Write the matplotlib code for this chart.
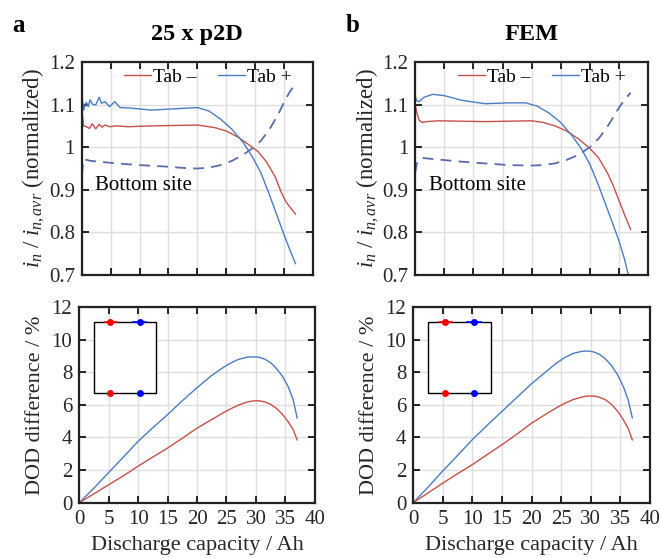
import matplotlib
matplotlib.use('Agg')
import matplotlib.pyplot as plt
import matplotlib.patches as patches
from matplotlib.ticker import FuncFormatter

plt.rcParams['font.family'] = ['Liberation Serif', 'DejaVu Serif']
plt.rcParams['mathtext.fontset'] = 'custom'
plt.rcParams['mathtext.rm'] = 'Liberation Serif'
plt.rcParams['mathtext.it'] = 'Liberation Serif:italic'

# ---- data: normalized current density, 25 x p2D ----
p2d_neg_x = [0, 0.3, 0.8, 1.3, 1.8, 2.4, 3.0, 3.5, 4.0, 4.8, 6, 8, 12, 16, 20, 23, 25, 27,
             29, 30.5, 32, 33.5, 34.5, 35.3, 36, 37]
p2d_neg_y = [1.09, 1.05, 1.048, 1.044, 1.055, 1.043, 1.054, 1.047, 1.052, 1.048, 1.05, 1.048,
             1.05, 1.051, 1.052, 1.046, 1.038, 1.024, 1.005, 0.99, 0.965, 0.93, 0.895, 0.873,
             0.86, 0.843]
p2d_pos_x = [0, 0.35, 0.55, 0.8, 1.1, 1.4, 1.85, 2.4, 3.0, 3.4, 4.0, 4.8, 5.7, 6.6, 8.3, 12,
             16, 20, 22, 24, 26, 28, 29.5, 31, 32.5, 34, 35, 36, 37]
p2d_pos_y = [1.119, 1.087, 1.1, 1.105, 1.095, 1.111, 1.101, 1.099, 1.117, 1.103, 1.107, 1.095,
             1.107, 1.093, 1.092, 1.087, 1.09, 1.093, 1.085, 1.066, 1.042, 1.01, 0.978, 0.94,
             0.888, 0.832, 0.795, 0.76, 0.727]
p2d_bot_x = [0, 0.3, 1.5, 3, 6, 10, 14, 18, 20, 22, 24, 26, 28, 29.5, 31, 32.5, 34, 35, 36, 37]
p2d_bot_y = [0.934, 0.972, 0.968, 0.966, 0.962, 0.958, 0.955, 0.951, 0.950, 0.952, 0.958,
             0.968, 0.983, 0.997, 1.015, 1.042, 1.077, 1.105, 1.13, 1.148]

# ---- FEM ----
fem_neg_x = [0, 0.3, 0.7, 1.2, 2, 4, 8, 12, 16, 20, 22, 24, 26, 28, 30, 31.5, 33, 34,
             35, 36, 37]
fem_neg_y = [1.1, 1.08, 1.063, 1.058, 1.06, 1.062, 1.061, 1.06, 1.061, 1.062, 1.058, 1.05,
             1.038, 1.02, 0.997, 0.975, 0.94, 0.91, 0.875, 0.84, 0.807]
fem_pos_x = [0, 0.3, 0.7, 1.5, 3, 5, 8, 12, 16, 19, 21, 23, 25, 27, 28.5, 30, 31.5, 33,
             34, 35, 36, 36.6]
fem_pos_y = [1.12, 1.108, 1.107, 1.117, 1.124, 1.121, 1.11, 1.102, 1.104, 1.104, 1.096,
             1.08, 1.058, 1.026, 0.997, 0.96, 0.91, 0.855, 0.818, 0.78, 0.735, 0.70]
fem_bot_x = [0, 0.3, 1, 4, 8, 12, 16, 20, 22, 24, 26, 28, 30, 31.5, 33, 34, 35, 36, 37]
fem_bot_y = [0.94, 0.962, 0.975, 0.971, 0.966, 0.962, 0.958, 0.957, 0.958, 0.962, 0.970,
             0.982, 1.0, 1.02, 1.048, 1.07, 1.093, 1.112, 1.128]

# ---- DOD difference ----
dod_x = [0, 2.5, 5, 7.5, 10, 12.5, 15, 17.5, 20, 22.5, 24, 25.5, 27, 28.5, 29.5, 30.5,
         31.5, 32.5, 33.5, 34.5, 35.5, 36.3, 37]
p2d_dod_pos = [0, 0.9, 1.85, 2.8, 3.76, 4.6, 5.4, 6.25, 7.05, 7.8, 8.18, 8.52, 8.78, 8.92,
               8.94, 8.92, 8.8, 8.58, 8.22, 7.75, 7.1, 6.35, 5.2]
p2d_dod_neg = [0, 0.55, 1.1, 1.65, 2.24, 2.8, 3.35, 3.95, 4.57, 5.1, 5.42, 5.72, 5.98, 6.17,
               6.24, 6.25, 6.18, 6.03, 5.78, 5.42, 4.95, 4.5, 3.85]
fem_dod_pos = [0, 0.95, 1.95, 2.9, 3.87, 4.75, 5.6, 6.45, 7.3, 8.05, 8.5, 8.88, 9.15, 9.28,
               9.3, 9.24, 9.08, 8.8, 8.4, 7.85, 7.1, 6.3, 5.2]
fem_dod_neg = [0, 0.6, 1.2, 1.78, 2.34, 2.95, 3.56, 4.2, 4.88, 5.45, 5.78, 6.08, 6.32, 6.48,
               6.54, 6.54, 6.46, 6.3, 6.02, 5.62, 5.08, 4.55, 3.85]

titles = ['25 x p2D', 'FEM']
panel_letters = ['a', 'b']
legend_labels = ['Tab \u2013', 'Tab +']

RED = '#c8504a'
BLUE = '#4a7dc4'
DASH = '#5a6cae'
TXT = '#262626'

fig = plt.figure(figsize=(6.6, 5.58), dpi=100)

top_pos = [[0.124, 0.507, 0.350, 0.382], [0.629, 0.507, 0.353, 0.382]]
bot_pos = [[0.120, 0.099, 0.357, 0.351], [0.626, 0.099, 0.359, 0.351]]

top_data = [
    (p2d_neg_x, p2d_neg_y, p2d_pos_x, p2d_pos_y, p2d_bot_x, p2d_bot_y),
    (fem_neg_x, fem_neg_y, fem_pos_x, fem_pos_y, fem_bot_x, fem_bot_y),
]
bot_data = [(p2d_dod_neg, p2d_dod_pos), (fem_dod_neg, fem_dod_pos)]


def style_axes(ax):
    ax.grid(True, color='#dedede', linewidth=1.0)
    ax.set_axisbelow(True)
    for s in ax.spines.values():
        s.set_linewidth(1.6)
        s.set_color('#222222')
    ax.tick_params(direction='in', top=True, right=True, length=5, width=1.2,
                   labelsize=15, pad=5, labelcolor=TXT)
    ax.set_xlim(0, 40)
    ax.set_xticks(range(0, 41, 5))


for i in range(2):
    nx, ny, px, py, bx, by = top_data[i]
    ax = fig.add_axes(top_pos[i])
    style_axes(ax)
    ax.plot(nx, ny, color=RED, lw=1.0, label=legend_labels[0])
    ax.plot(px, py, color=BLUE, lw=1.0, label=legend_labels[1])
    ax.plot(bx, by, color=DASH, lw=1.3, ls=(0, (6, 4)))
    ax.set_ylim(0.7, 1.2)
    ax.set_yticks([0.7, 0.8, 0.9, 1.0, 1.1, 1.2])
    ax.yaxis.set_major_formatter(FuncFormatter(lambda v, p: '%g' % round(v, 2)))
    ax.set_xticklabels([])
    ax.set_ylabel(r'$i_n\ /\ i_{n,avr}$ (normalized)', fontsize=16.5, labelpad=1,
                  color=TXT)
    ax.text(2.3, 0.91, 'Bottom site', fontsize=15, va='center', ha='left')
    ax.legend(loc='center', bbox_to_anchor=(0.545, 0.93), ncol=2, frameon=False,
              fontsize=14, handlelength=1.4, handletextpad=0.1, columnspacing=1.1,
              borderaxespad=0)
    ax.set_title(titles[i], fontsize=17.5, fontweight='bold', pad=16)
    fig.text(top_pos[i][0] - 0.105, 0.955, panel_letters[i], fontsize=18,
             fontweight='bold', ha='left', va='center')

    neg, pos = bot_data[i]
    ax2 = fig.add_axes(bot_pos[i])
    style_axes(ax2)
    ax2.plot(dod_x, pos, color=BLUE, lw=1.0)
    ax2.plot(dod_x, neg, color=RED, lw=1.0)
    ax2.set_ylim(0, 12)
    ax2.set_yticks(range(0, 13, 2))
    ax2.set_xlabel('Discharge capacity / Ah', fontsize=16, labelpad=5, color=TXT)
    ax2.set_ylabel('DOD difference / %', fontsize=16, labelpad=5, color=TXT)

    # cell schematic with tab positions
    ax2.add_patch(patches.Rectangle((2.5, 6.7), 10.6, 4.35, facecolor='white',
                                    edgecolor='black', lw=1.0, zorder=3))
    ax2.plot([4.3, 6.5], [11.05, 11.05], color='red', lw=1.2, zorder=4)
    ax2.plot([9.1, 11.4], [11.05, 11.05], color='blue', lw=1.2, zorder=4)
    ax2.plot([5.3, 5.3], [11.05, 6.7], 'o', color='red', ms=4, zorder=5)
    ax2.plot([10.3, 10.3], [11.05, 6.7], 'o', color='blue', ms=4, zorder=5)

fig.savefig('out.png', dpi=100)
